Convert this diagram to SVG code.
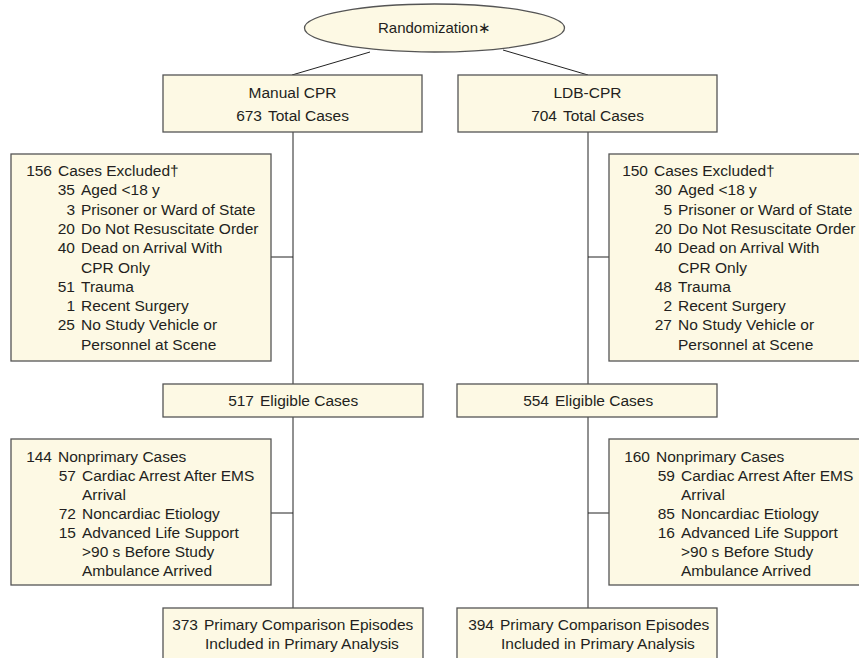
<svg xmlns="http://www.w3.org/2000/svg" width="859" height="658" viewBox="0 0 859 658">
<style>
.box{fill:#fdf9e4;stroke:#555;stroke-width:1.3}
.con{stroke:#222;stroke-width:1;fill:none}
text{font-family:"Liberation Sans",Arial,sans-serif;font-size:15.5px;fill:#231f20}
.c{text-anchor:middle}
.e{text-anchor:end}
</style>
<rect width="859" height="658" fill="#fff"/>
<g id="connectors">
<line class="con" x1="370" y1="52" x2="292" y2="75"/>
<line class="con" x1="503" y1="50" x2="588" y2="75"/>
<line class="con" x1="293" y1="132" x2="293" y2="608"/>
<line class="con" x1="588" y1="132" x2="588" y2="608"/>
<line class="con" x1="271" y1="257" x2="293" y2="257"/>
<line class="con" x1="588" y1="257" x2="609" y2="257"/>
<line class="con" x1="271" y1="513" x2="293" y2="513"/>
<line class="con" x1="588" y1="513" x2="609" y2="513"/>
</g>
<g id="randomization">
<ellipse class="box" cx="434.5" cy="28" rx="130" ry="24"/>
<text class="c" x="434.5" y="33" style="font-size:15px">Randomization∗</text>
</g>
<g id="manual">
<rect class="box" x="163" y="75" width="259" height="57"/>
<text class="c" x="292.5" y="97.5">Manual CPR</text>
<text y="120.5"><tspan x="262" class="e">673</tspan><tspan x="268">Total Cases</tspan></text>
</g>
<g id="ldb">
<rect class="box" x="458" y="75" width="259" height="57"/>
<text class="c" x="587.5" y="97.5">LDB-CPR</text>
<text y="120.5"><tspan x="557" class="e">704</tspan><tspan x="563">Total Cases</tspan></text>
</g>
<g id="excluded-left">
<rect class="box" x="11" y="154" width="260" height="207"/>
<text y="176"><tspan class="e" x="52">156</tspan><tspan x="58">Cases Excluded†</tspan></text>
<text y="195.3"><tspan class="e" x="75">35</tspan><tspan x="81">Aged &lt;18 y</tspan></text>
<text y="214.6"><tspan class="e" x="75">3</tspan><tspan x="81">Prisoner or Ward of State</tspan></text>
<text y="233.9"><tspan class="e" x="75">20</tspan><tspan x="81">Do Not Resuscitate Order</tspan></text>
<text y="253.2"><tspan class="e" x="75">40</tspan><tspan x="81">Dead on Arrival With</tspan></text>
<text x="81" y="272.5">CPR Only</text>
<text y="291.8"><tspan class="e" x="75">51</tspan><tspan x="81">Trauma</tspan></text>
<text y="311.1"><tspan class="e" x="75">1</tspan><tspan x="81">Recent Surgery</tspan></text>
<text y="330.4"><tspan class="e" x="75">25</tspan><tspan x="81">No Study Vehicle or</tspan></text>
<text x="81" y="349.7">Personnel at Scene</text>
</g>
<g id="excluded-right">
<rect class="box" x="609" y="154" width="262" height="207"/>
<text y="176"><tspan class="e" x="648">150</tspan><tspan x="654">Cases Excluded†</tspan></text>
<text y="195.3"><tspan class="e" x="672">30</tspan><tspan x="678">Aged &lt;18 y</tspan></text>
<text y="214.6"><tspan class="e" x="672">5</tspan><tspan x="678">Prisoner or Ward of State</tspan></text>
<text y="233.9"><tspan class="e" x="672">20</tspan><tspan x="678">Do Not Resuscitate Order</tspan></text>
<text y="253.2"><tspan class="e" x="672">40</tspan><tspan x="678">Dead on Arrival With</tspan></text>
<text x="678" y="272.5">CPR Only</text>
<text y="291.8"><tspan class="e" x="672">48</tspan><tspan x="678">Trauma</tspan></text>
<text y="311.1"><tspan class="e" x="672">2</tspan><tspan x="678">Recent Surgery</tspan></text>
<text y="330.4"><tspan class="e" x="672">27</tspan><tspan x="678">No Study Vehicle or</tspan></text>
<text x="678" y="349.7">Personnel at Scene</text>
</g>
<g id="eligible-left">
<rect class="box" x="163" y="384" width="260" height="33"/>
<text y="406"><tspan class="e" x="254">517</tspan><tspan x="260">Eligible Cases</tspan></text>
</g>
<g id="eligible-right">
<rect class="box" x="457" y="384" width="260" height="33"/>
<text y="406"><tspan class="e" x="549">554</tspan><tspan x="555">Eligible Cases</tspan></text>
</g>
<g id="nonprimary-left">
<rect class="box" x="11" y="439" width="260" height="146"/>
<text y="462"><tspan class="e" x="52">144</tspan><tspan x="58">Nonprimary Cases</tspan></text>
<text y="481"><tspan class="e" x="76">57</tspan><tspan x="82">Cardiac Arrest After EMS</tspan></text>
<text x="82" y="500">Arrival</text>
<text y="519"><tspan class="e" x="76">72</tspan><tspan x="82">Noncardiac Etiology</tspan></text>
<text y="538"><tspan class="e" x="76">15</tspan><tspan x="82">Advanced Life Support</tspan></text>
<text x="82" y="557">&gt;90 s Before Study</text>
<text x="82" y="576">Ambulance Arrived</text>
</g>
<g id="nonprimary-right">
<rect class="box" x="609" y="439" width="262" height="146"/>
<text y="462"><tspan class="e" x="650">160</tspan><tspan x="656">Nonprimary Cases</tspan></text>
<text y="481"><tspan class="e" x="675">59</tspan><tspan x="681">Cardiac Arrest After EMS</tspan></text>
<text x="681" y="500">Arrival</text>
<text y="519"><tspan class="e" x="675">85</tspan><tspan x="681">Noncardiac Etiology</tspan></text>
<text y="538"><tspan class="e" x="675">16</tspan><tspan x="681">Advanced Life Support</tspan></text>
<text x="681" y="557">&gt;90 s Before Study</text>
<text x="681" y="576">Ambulance Arrived</text>
</g>
<g id="primary-left">
<rect class="box" x="163" y="608" width="260" height="60"/>
<text y="630"><tspan class="e" x="198">373</tspan><tspan x="204">Primary Comparison Episodes</tspan></text>
<text x="205" y="649">Included in Primary Analysis</text>
</g>
<g id="primary-right">
<rect class="box" x="457" y="608" width="260" height="60"/>
<text y="630"><tspan class="e" x="494">394</tspan><tspan x="500">Primary Comparison Episodes</tspan></text>
<text x="501" y="649">Included in Primary Analysis</text>
</g>
</svg>
